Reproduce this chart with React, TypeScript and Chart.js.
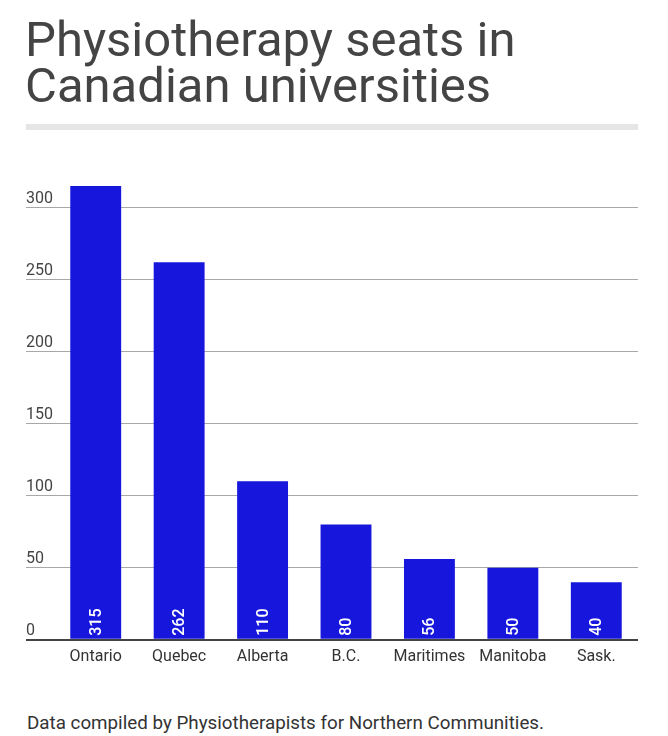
import React, { useEffect, useRef } from "react";
import { Chart, registerables } from "chart.js";

Chart.register(...registerables);

const regions = ["Ontario", "Quebec", "Alberta", "B.C.", "Maritimes", "Manitoba", "Sask."];
const seats = [315, 262, 110, 80, 56, 50, 40];
const yTickStep = 50;
const yMax = 315;

const titleText = ["Physiotherapy seats in", "Canadian universities"];
const footerText = "Data compiled by Physiotherapists for Northern Communities.";

const barColor = "#1616DC";
const FONT = "Roboto, 'Noto Sans', sans-serif";

const valueLabelPlugin = {
  id: "valueLabels",
  afterDatasetsDraw(chart: any) {
    const ctx = chart.ctx;
    const meta = chart.getDatasetMeta(0);
    const data = chart.data.datasets[0].data;
    ctx.save();
    ctx.fillStyle = "#ffffff";
    ctx.font = `500 16px ${FONT}`;
    ctx.textAlign = "left";
    ctx.textBaseline = "middle";
    meta.data.forEach((bar: any, i: number) => {
      ctx.save();
      ctx.translate(bar.x, bar.base - 3);
      ctx.rotate(-Math.PI / 2);
      ctx.fillText(String(data[i]), 0, 1);
      ctx.restore();
    });
    ctx.restore();
  },
};

export default function App() {
  const canvasRef = useRef<HTMLCanvasElement | null>(null);

  useEffect(() => {
    if (!canvasRef.current) return;
    const chart = new Chart(canvasRef.current, {
      type: "bar",
      data: {
        labels: regions,
        datasets: [
          {
            data: seats,
            backgroundColor: barColor,
            borderWidth: 0,
            barPercentage: 0.61,
            categoryPercentage: 1,
          },
        ],
      },
      options: {
        animation: false,
        responsive: false,
        devicePixelRatio: 1,
        layout: { padding: { left: 18, right: 22, top: 36, bottom: 4 } },
        plugins: {
          legend: { display: false },
          tooltip: { enabled: false },
        },
        scales: {
          x: {
            grid: { display: false, drawTicks: false },
            border: { display: false },
            ticks: {
              color: "#333333",
              font: { family: FONT, size: 16 },
              padding: 8,
              maxRotation: 0,
            },
          },
          y: {
            min: 0,
            max: yMax,
            border: { display: false },
            afterBuildTicks: (scale: any) => {
              scale.ticks = scale.ticks.filter((t: any) => t.value % yTickStep === 0);
            },
            afterFit: (scale: any) => {
              scale.width = 28;
            },
            grid: {
              color: (c: any) => (c.tick && c.tick.value === 0 ? "#444444" : "#a8a8a8"),
              lineWidth: (c: any) => (c.tick && c.tick.value === 0 ? 2 : 1),
              tickLength: 28,
              drawTicks: true,
            },
            ticks: {
              stepSize: yTickStep,
              color: "#444444",
              font: { family: FONT, size: 16 },
              crossAlign: "far",
              labelOffset: -9,
              padding: 0,
            },
          },
        },
      },
      plugins: [valueLabelPlugin],
    });
    return () => chart.destroy();
  }, []);

  return (
    <div style={{ position: "relative", width: 652, height: 728, fontFamily: FONT }}>
      <div
        style={{
          position: "absolute",
          left: 17,
          top: 9,
          fontSize: 49,
          lineHeight: "46px",
          color: "#444444",
          whiteSpace: "nowrap",
        }}
      >
        {titleText.map((t, i) => (
          <div key={i}>{t}</div>
        ))}
      </div>
      <div
        style={{
          position: "absolute",
          left: 18,
          top: 116,
          width: 612,
          height: 6,
          background: "#e6e6e6",
        }}
      />
      <canvas
        ref={canvasRef}
        width={652}
        height={529}
        style={{ position: "absolute", left: 0, top: 142, width: 652, height: 529 }}
      />
      <div
        style={{
          position: "absolute",
          left: 19,
          top: 704,
          fontSize: 18.8,
          fontWeight: 400,
          lineHeight: "22px",
          color: "#333333",
          whiteSpace: "nowrap",
        }}
      >
        {footerText}
      </div>
    </div>
  );
}
